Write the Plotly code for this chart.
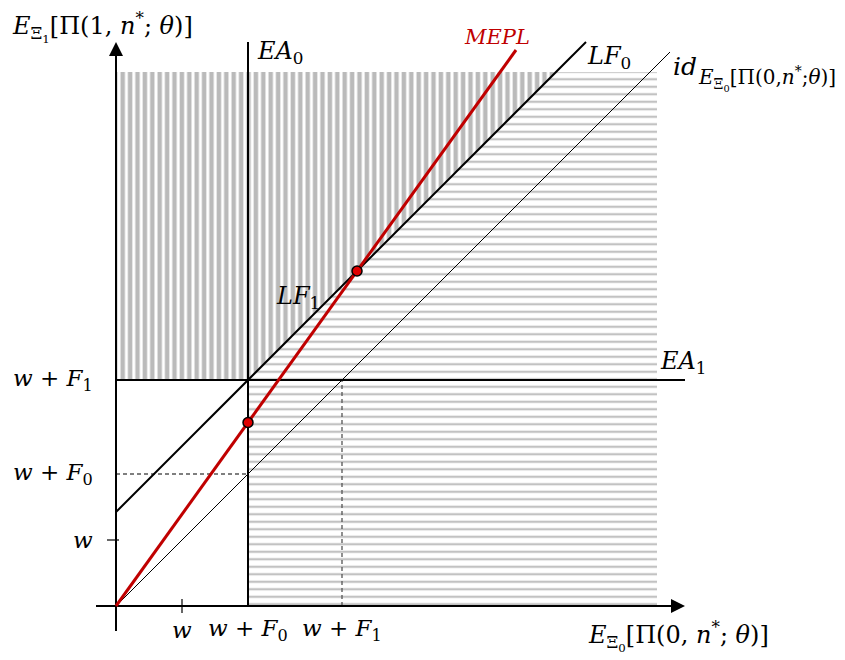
import plotly.graph_objects as go

# ---- conceptual quantities (drawn in data units) ----
w = 66
F0 = 66
F1 = 160
mepl_slope = 1.39          # slope of the MEPL line
y_top = 534                # top of the shaded regions
x_right = 541              # right edge of the horizontally shaded region
x_axis_end = 569
y_axis_end = 564
axis_low_x = -20
axis_low_y = -25
lf_end_x = 470
id_end_x = 554
mepl_end_x = 400

x_tick_vals = [w, w + F0, w + F1]
x_tick_text = ["<i>w</i>", "<i>w</i> + <i>F</i><sub>0</sub>", "<i>w</i> + <i>F</i><sub>1</sub>"]
y_tick_vals = [w, w + F0, w + F1]
y_tick_text = ["<i>w</i>", "<i>w</i> + <i>F</i><sub>0</sub>", "<i>w</i> + <i>F</i><sub>1</sub>"]

wF0 = w + F0
wF1 = w + F1
lf_shift = F1 - F0

FONT = "DejaVu Serif"
fig = go.Figure()

# vertically striped region (above EA1, left of LF)
fig.add_trace(go.Scatter(
    x=[0, 0, y_top - lf_shift, wF0, 0], y=[wF1, y_top, y_top, wF1, wF1],
    mode="lines", fill="toself", line=dict(width=0, color="rgba(0,0,0,0)"),
    fillcolor="white",
    fillpattern=dict(shape="|", size=7.4, solidity=0.6, fgcolor="#bababa",
                     bgcolor="white", fgopacity=1),
    hoverinfo="skip"))
# horizontally striped region (right of EA0, below LF)
fig.add_trace(go.Scatter(
    x=[wF0, x_right, x_right, y_top - lf_shift, wF0, wF0], y=[0, 0, y_top, y_top, wF1, 0],
    mode="lines", fill="toself", line=dict(width=0, color="rgba(0,0,0,0)"),
    fillcolor="white",
    fillpattern=dict(shape="-", size=7.5, solidity=0.3, fgcolor="#c2c2c2",
                     bgcolor="white", fgopacity=1),
    hoverinfo="skip"))

def line(xs, ys, color="black", width=2, dash="solid"):
    fig.add_trace(go.Scatter(x=xs, y=ys, mode="lines",
                             line=dict(color=color, width=width, dash=dash), hoverinfo="skip"))

# dashed guides
line([0, wF0], [wF0, wF0], color="#555555", width=1.3, dash="4px,3px")
line([wF1, wF1], [0, wF1], color="#555555", width=1.3, dash="4px,3px")
# identity line
line([0, id_end_x], [0, id_end_x], width=1)
# LF line
line([0, lf_end_x], [lf_shift, lf_end_x + lf_shift], width=2)
# EA0 and EA1
line([wF0, wF0], [0, y_axis_end], width=2)
line([0, x_axis_end], [wF1, wF1], width=2)
# axes
line([axis_low_x, x_axis_end - 6], [0, 0], width=2)
line([0, 0], [axis_low_y, y_axis_end - 6], width=2)
fig.add_trace(go.Scatter(x=[x_axis_end], y=[0], mode="markers",
                         marker=dict(symbol="arrow-right", size=14, color="black"), hoverinfo="skip"))
fig.add_trace(go.Scatter(x=[0], y=[y_axis_end], mode="markers",
                         marker=dict(symbol="arrow-up", size=14, color="black"), hoverinfo="skip"))
# MEPL
line([0, mepl_end_x], [0, mepl_slope * mepl_end_x], color="#c00000", width=3)
# intersection dots
x_int = lf_shift / (mepl_slope - 1)
fig.add_trace(go.Scatter(x=[wF0, x_int], y=[mepl_slope * wF0, mepl_slope * x_int], mode="markers",
                         marker=dict(size=10, color="#e00000", line=dict(color="black", width=1.5)),
                         hoverinfo="skip"))

# tick marks
for v in x_tick_vals[:1]:
    fig.add_shape(type="line", x0=v, x1=v, y0=-7, y1=7, line=dict(color="black", width=1.2))
for v in y_tick_vals[:1]:
    fig.add_shape(type="line", x0=-9, x1=3, y0=v, y1=v, line=dict(color="black", width=1.2))

def label(x, y, text, size=24, xanchor="left", yanchor="middle", color="black"):
    fig.add_annotation(x=x, y=y, text=text, showarrow=False, xanchor=xanchor, yanchor=yanchor,
                       font=dict(family=FONT, size=size, color=color))

for v, t in zip(x_tick_vals, x_tick_text):
    label(v, -24, t, xanchor="center", size=23)
for v, t in zip(y_tick_vals, y_tick_text):
    label(-21, v, t, xanchor="right", size=23)

label(-106, 579, "<i>E</i><sub>Ξ<sub>1</sub></sub>[Π(1, <i>n</i><sup>*</sup>; <i>θ</i>)]", size=24)
label(470, -30, "<i>E</i><sub>Ξ<sub>0</sub></sub>[Π(0, <i>n</i><sup>*</sup>; <i>θ</i>)]", size=24)
label(139, 554, "<i>EA</i><sub>0</sub>")
label(542, 244, "<i>EA</i><sub>1</sub>")
label(469, 549, "<i>LF</i><sub>0</sub>")
label(158, 309, "<i>LF</i><sub>1</sub>")
label(381, 569, "<i>MEPL</i>", size=21, xanchor="center", color="#c00000")
label(555, 540, "<i>id</i>", size=25)
label(580, 528, "<i>E</i><sub>Ξ<sub>0</sub></sub>[Π(0,<i>n</i><sup>*</sup>;<i>θ</i>)]", size=20)

# the page adds an 8px body margin, so the figure is 8px smaller than the window
fig.update_layout(
    width=837, height=652, margin=dict(l=0, r=0, t=0, b=0),
    paper_bgcolor="white", plot_bgcolor="white", showlegend=False,
    xaxis=dict(range=[-108, 729], visible=False, fixedrange=True),
    yaxis=dict(range=[-54, 598], visible=False, fixedrange=True),
)
fig.write_html("out.html")
